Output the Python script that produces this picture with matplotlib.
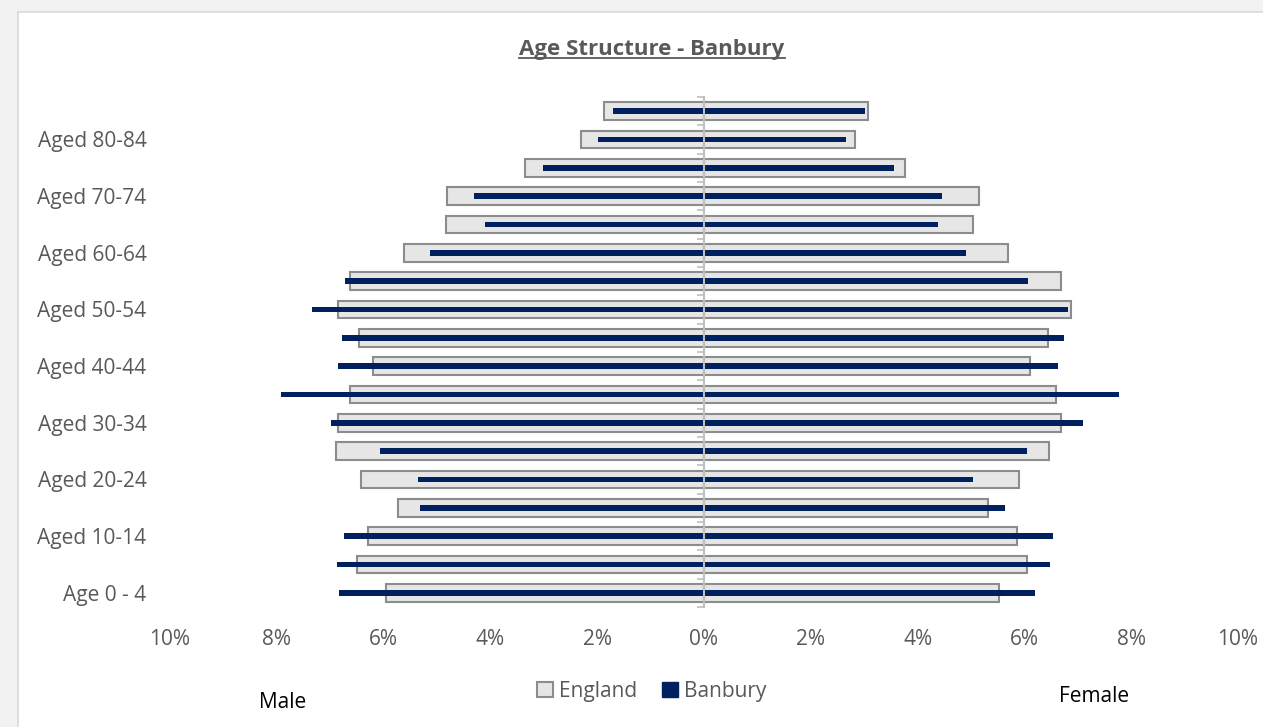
import matplotlib
matplotlib.use("Agg")
import matplotlib.pyplot as plt
import numpy as np
from matplotlib.patches import Rectangle, Patch
from matplotlib.lines import Line2D
from matplotlib.ticker import FixedLocator

plt.rcParams['font.family'] = ['Open Sans', 'DejaVu Sans']

# Data (bottom to top)
categories = ["Age 0 - 4", "Aged 5-9", "Aged 10-14", "Aged 15-19", "Aged 20-24",
              "Aged 25-29", "Aged 30-34", "Aged 35-39", "Aged 40-44", "Aged 45-49",
              "Aged 50-54", "Aged 55-59", "Aged 60-64", "Aged 65-69", "Aged 70-74",
              "Aged 75-79", "Aged 80-84", "Aged 85+"]
england_male = [5.95, 6.49, 6.30, 5.73, 6.42, 6.89, 6.86, 6.62, 6.20, 6.46,
                6.85, 6.63, 5.62, 4.83, 4.81, 3.35, 2.30, 1.88]
banbury_male = [6.84, 6.87, 6.74, 5.32, 5.35, 6.07, 6.98, 7.92, 6.85, 6.77,
                7.35, 6.72, 5.13, 4.11, 4.30, 3.02, 1.99, 1.70]
england_female = [5.53, 6.04, 5.87, 5.31, 5.89, 6.47, 6.69, 6.60, 6.11, 6.44,
                  6.88, 6.69, 5.70, 5.03, 5.15, 3.76, 2.83, 3.08]
banbury_female = [6.20, 6.48, 6.54, 5.64, 5.04, 6.05, 7.10, 7.78, 6.62, 6.74,
                  6.81, 6.07, 4.91, 4.38, 4.46, 3.55, 2.65, 3.01]
xticks = [-10, -8, -6, -4, -2, 0, 2, 4, 6, 8, 10]
xtick_labels = ["10%", "8%", "6%", "4%", "2%", "0%", "2%", "4%", "6%", "8%", "10%"]

GRAY_TXT = "#595959"
ENG_FILL = "#E7E6E6"
ENG_EDGE = "#8C8C8C"
NAVY = "#002060"

fig = plt.figure(figsize=(12.63, 7.27), dpi=100)
fig.patch.set_facecolor("#F2F2F2")
bg_top = 1 - 12/727
bg = Rectangle((18/1263, -0.2), 1.2, bg_top + 0.2,
               transform=fig.transFigure, facecolor="white",
               edgecolor="#D9D9D9", linewidth=1.2, zorder=-10)
fig.add_artist(bg)

left = 170/1263
right = 1238/1263
bottom = 1 - 607/727
top = 1 - 97/727
ax = fig.add_axes([left, bottom, right - left, top - bottom])
ax.set_facecolor("none")
ax.set_zorder(1)

y = np.arange(len(categories))
em = np.array(england_male)
bm = np.array(banbury_male)
ef = np.array(england_female)
bf = np.array(banbury_female)

ax.barh(y, -em, height=0.62, color=ENG_FILL, edgecolor=ENG_EDGE, linewidth=1.5, zorder=2)
ax.barh(y, ef, height=0.62, color=ENG_FILL, edgecolor=ENG_EDGE, linewidth=1.5, zorder=2)
ax.barh(y, -bm, height=0.2, color=NAVY, linewidth=0, zorder=3)
ax.barh(y, bf, height=0.2, color=NAVY, linewidth=0, zorder=3)

ylim = (-0.5, len(categories) - 0.5)
ax.set_xlim(-10, 10)
ax.set_ylim(*ylim)
ax.set_xticks(xticks)
ax.set_xticklabels(xtick_labels)
ax.set_yticks(y[::2])
ax.set_yticklabels(categories[::2])
ax.tick_params(axis='x', length=0, pad=16, labelsize=15, labelcolor=GRAY_TXT)
ax.tick_params(axis='y', length=0, pad=17, labelsize=15, labelcolor=GRAY_TXT)
for s in ax.spines.values():
    s.set_visible(False)

# central vertical axis with boundary ticks (independent overlay axes)
ax2 = fig.add_axes(ax.get_position())
ax2.set_xlim(-10, 10)
ax2.set_ylim(*ylim)
ax2.patch.set_visible(False)
for k in ['top', 'right', 'bottom']:
    ax2.spines[k].set_visible(False)
ax2.spines['left'].set_position(('data', 0))
ax2.spines['left'].set_color("#BFBFBF")
ax2.spines['left'].set_linewidth(1.5)
ax2.set_xticks([])
ax2.yaxis.set_major_locator(FixedLocator(np.arange(-0.5, len(categories), 1.0)))
ax2.tick_params(axis='y', length=5, width=1.2, color="#BFBFBF", direction='out',
                labelleft=False)
ax2.set_zorder(3)

# title with underline
title = fig.text(652/1263, 1 - 49/727, "Age Structure - Banbury", ha='center', va='center',
                 fontsize=16, fontweight='bold', color=GRAY_TXT)
fig.canvas.draw()
bb = title.get_window_extent(renderer=fig.canvas.get_renderer())
inv = fig.transFigure.inverted()
(x0, y0), (x1, y1) = inv.transform([(bb.x0, bb.y0), (bb.x1, bb.y1)])
fig.add_artist(Line2D([x0, x1], [y0 + 0.002, y0 + 0.002], transform=fig.transFigure,
                      color=GRAY_TXT, linewidth=1.3))

# legend
handles = [Patch(facecolor=ENG_FILL, edgecolor=ENG_EDGE, linewidth=1.5, label="England"),
           Patch(facecolor=NAVY, edgecolor=NAVY, label="Banbury")]
leg = fig.legend(handles=handles, loc='center', bbox_to_anchor=(652/1263, 1 - 691/727),
                 ncol=2, frameon=False, fontsize=15, handlelength=0.75, handleheight=0.75,
                 handletextpad=0.3, columnspacing=1.2)
for t in leg.get_texts():
    t.set_color(GRAY_TXT)

fig.text(283/1263, 1 - 703/727, "Male", ha='center', va='center', fontsize=15, color="black")
fig.text(1094/1263, 1 - 697/727, "Female", ha='center', va='center', fontsize=15, color="black")

fig.savefig("out.png", dpi=100, facecolor=fig.get_facecolor())
